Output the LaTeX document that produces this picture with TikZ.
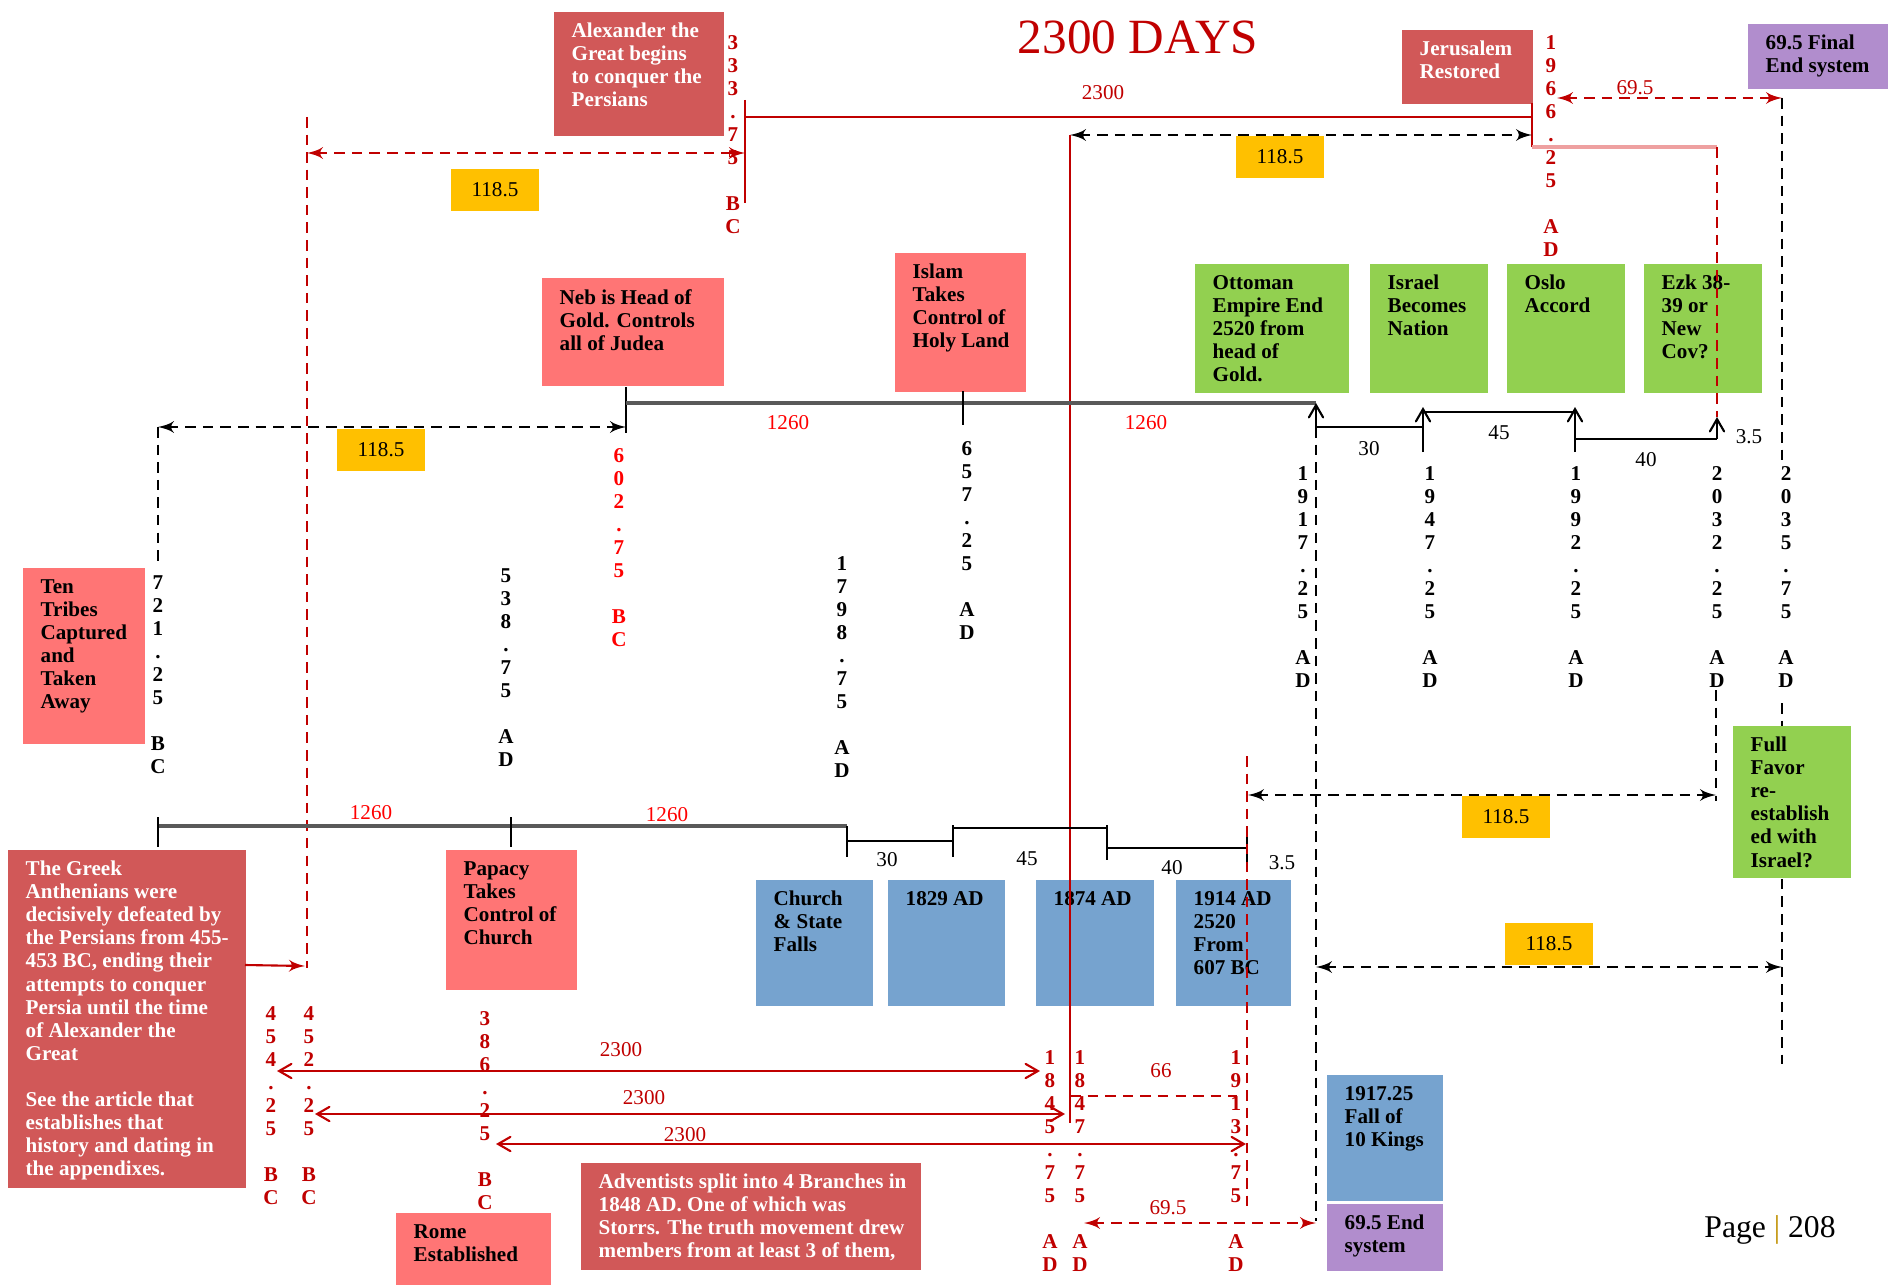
\documentclass[tikz,border=0pt]{standalone}
\usepackage{fontspec}
\setmainfont{Liberation Serif}
\usetikzlibrary{arrows}
\definecolor{alertred}{RGB}{209,88,88}
\definecolor{softred}{RGB}{255,117,117}
\definecolor{leafgreen}{RGB}{146,208,80}
\definecolor{steelblue}{RGB}{118,163,207}
\definecolor{lilac}{RGB}{177,141,205}
\definecolor{amber}{RGB}{255,192,0}
\definecolor{lred}{RGB}{192,0,0}
\definecolor{bred}{RGB}{255,0,0}
\definecolor{pinkred}{RGB}{238,160,160}
\definecolor{pagegold}{RGB}{191,144,0}
\tikzstyle{panel}=[anchor=north west,inner sep=0pt]
\tikzstyle{paneltext}=[anchor=north west,align=left,inner xsep=0.18cm,inner ysep=0.115cm,font=\fontsize{6}{6.55}\selectfont\bfseries]
\tikzstyle{tag}=[fill=amber,minimum width=0.87cm,minimum height=0.42cm,inner sep=0pt,font=\fontsize{6}{6.55}\selectfont]
\tikzstyle{year}=[anchor=north,align=center,inner sep=0pt,font=\fontsize{6}{6.55}\selectfont\bfseries]
\tikzstyle{num}=[inner sep=0pt,font=\fontsize{6}{6.55}\selectfont]
\tikzstyle{redline}=[draw=lred,line width=0.6pt]
\tikzstyle{greyline}=[draw=black!65,line width=0.9pt]
\tikzstyle{bracket}=[draw=black,line width=0.6pt]
\tikzstyle{reddash}=[draw=lred,line width=0.6pt,dash pattern=on 3pt off 2pt]
\tikzstyle{blackdash}=[draw=black,line width=0.6pt,dash pattern=on 3pt off 2pt]
\begin{document}
\begin{tikzpicture}[x=0.01cm,y=-0.01cm]
      \useasboundingbox (0,0) rectangle (1888,1285);
      \node[panel,fill=alertred,minimum width=1.70cm,minimum height=1.24cm] (alex) at (553,11) {};
      \node[paneltext,text=white] (alext) at (alex.north west) {Alexander the\\Great begins\\to conquer the\\Persians};
      \node[panel,fill=alertred,minimum width=1.31cm,minimum height=0.74cm] (jeru) at (1401,29) {};
      \node[paneltext,text=white] (jerut) at (jeru.north west) {Jerusalem\\Restored};
      \node[panel,fill=lilac,minimum width=1.41cm,minimum height=0.65cm] (final) at (1747,23) {};
      \node[paneltext] (finalt) at (final.north west) {69.5 Final\\End system};
      \node[panel,fill=softred,minimum width=1.82cm,minimum height=1.08cm] (neb) at (541,277) {};
      \node[paneltext] (nebt) at (neb.north west) {Neb is Head of\\Gold. Controls\\all of Judea};
      \node[panel,fill=softred,minimum width=1.31cm,minimum height=1.39cm] (islam) at (894,252) {};
      \node[paneltext] (islamt) at (islam.north west) {Islam\\Takes\\Control of\\Holy Land};
      \node[panel,fill=leafgreen,minimum width=1.54cm,minimum height=1.29cm] (ottoman) at (1194,263) {};
      \node[paneltext] (ottomant) at (ottoman.north west) {Ottoman\\Empire End\\2520 from\\head of\\Gold.};
      \node[panel,fill=leafgreen,minimum width=1.18cm,minimum height=1.29cm] (israel) at (1369,263) {};
      \node[paneltext] (israelt) at (israel.north west) {Israel\\Becomes\\Nation};
      \node[panel,fill=leafgreen,minimum width=1.18cm,minimum height=1.29cm] (oslo) at (1506,263) {};
      \node[paneltext] (oslot) at (oslo.north west) {Oslo\\Accord};
      \node[panel,fill=leafgreen,minimum width=1.18cm,minimum height=1.29cm] (ezk) at (1643,263) {};
      \node[paneltext] (ezkt) at (ezk.north west) {Ezk 38-\\39 or\\New\\Cov?};
      \node[panel,fill=softred,minimum width=1.22cm,minimum height=1.76cm] (ten) at (22,567) {};
      \node[paneltext] (tent) at (ten.north west) {Ten\\Tribes\\Captured\\and\\Taken\\Away};
      \node[panel,fill=alertred,minimum width=2.38cm,minimum height=3.38cm] (greek) at (7,849) {};
      \node[paneltext,text=white] (greekt) at (greek.north west) {The Greek\\Anthenians were\\decisively defeated by\\the Persians from 455-\\453 BC, ending their\\attempts to conquer\\Persia until the time\\of Alexander the\\Great\\~\\See the article that\\establishes that\\history and dating in\\the appendixes.};
      \node[panel,fill=softred,minimum width=1.31cm,minimum height=1.40cm] (papacy) at (445,849) {};
      \node[paneltext] (papacyt) at (papacy.north west) {Papacy\\Takes\\Control of\\Church};
      \node[panel,fill=steelblue,minimum width=1.17cm,minimum height=1.26cm] (church) at (755,879) {};
      \node[paneltext] (churcht) at (church.north west) {Church\\\& State\\Falls};
      \node[panel,fill=steelblue,minimum width=1.17cm,minimum height=1.26cm] (b1829) at (887,879) {};
      \node[paneltext] (b1829t) at (b1829.north west) {1829 AD};
      \node[panel,fill=steelblue,minimum width=1.18cm,minimum height=1.26cm] (b1874) at (1035,879) {};
      \node[paneltext] (b1874t) at (b1874.north west) {1874 AD};
      \node[panel,fill=steelblue,minimum width=1.15cm,minimum height=1.26cm] (b1914) at (1175,879) {};
      \node[paneltext] (b1914t) at (b1914.north west) {1914 AD\\2520\\From\\607 BC};
      \node[panel,fill=steelblue,minimum width=1.16cm,minimum height=1.26cm] (b1917) at (1326,1074) {};
      \node[paneltext] (b1917t) at (b1917.north west) {1917.25\\Fall of\\10 Kings};
      \node[panel,fill=lilac,minimum width=1.16cm,minimum height=0.67cm] (end69) at (1326,1203) {};
      \node[paneltext] (end69t) at (end69.north west) {69.5 End\\system};
      \node[panel,fill=softred,minimum width=1.55cm,minimum height=0.73cm] (rome) at (395,1212) {};
      \node[paneltext] (romet) at (rome.north west) {Rome\\Established};
      \node[panel,fill=alertred,minimum width=3.40cm,minimum height=1.07cm] (advent) at (580,1162) {};
      \node[paneltext,text=white] (adventt) at (advent.north west) {Adventists split into 4 Branches in\\1848 AD. One of which was\\Storrs. The truth movement drew\\members from at least 3 of them,};
      \node[tag] (g1) at (495,190) {118.5};
      \node[tag] (g2) at (1280,157) {118.5};
      \node[tag] (g3) at (381,450) {118.5};
      \node[tag] (g4) at (1506,817) {118.5};
      \node[tag] (g5) at (1549,944) {118.5};
      \node[font=\fontsize{14}{14}\selectfont,text=lred] (title) at (1138,37) {2300 DAYS};
      \node[font=\fontsize{9}{9}\selectfont] (page) at (1770,1230) {Page \textcolor{pagegold}{|} 208};
      \coordinate (a333t) at (745,100);
      \coordinate (a333b) at (745,203);
      \coordinate (a333) at (745,117);
      \coordinate (a1966) at (1532,117);
      \coordinate (a1966t) at (1532,103);
      \coordinate (a1966b) at (1532,147);
      \coordinate (pinkend) at (1717,147);
      \coordinate (tip2032) at (1717,417);
      \coordinate (p2032) at (1717,439);
      \coordinate (gre1) at (307,153);
      \coordinate (gre2) at (745,153);
      \coordinate (gret) at (307,117);
      \coordinate (greb) at (307,968);
      \coordinate (grarr) at (245,965);
      \coordinate (grtip) at (305,966);
      \coordinate (j1) at (1070,135);
      \coordinate (j2) at (1532,135);
      \coordinate (redv) at (1070,1123);
      \coordinate (f1) at (1557,98);
      \coordinate (f2) at (1782,98);
      \coordinate (f3) at (1782,467);
      \coordinate (f4) at (1782,703);
      \coordinate (f5) at (1782,1064);
      \coordinate (u0) at (626,387);
      \coordinate (u1) at (626,403);
      \coordinate (u1b) at (626,433);
      \coordinate (u2) at (1316,403);
      \coordinate (i1) at (963,391);
      \coordinate (i2) at (963,425);
      \coordinate (ml1) at (158,427);
      \coordinate (ml2) at (626,427);
      \coordinate (ml3) at (158,563);
      \coordinate (k1) at (1316,427);
      \coordinate (k2) at (1423,427);
      \coordinate (k2t) at (1423,407);
      \coordinate (k2b) at (1423,452);
      \coordinate (k3) at (1423,412);
      \coordinate (k4) at (1575,412);
      \coordinate (k4t) at (1575,407);
      \coordinate (k4b) at (1575,452);
      \coordinate (k5) at (1575,439);
      \coordinate (e1) at (1316,1221);
      \coordinate (m1) at (1316,967);
      \coordinate (m2) at (1782,967);
      \coordinate (n1) at (1248,795);
      \coordinate (n2) at (1716,795);
      \coordinate (n3) at (1716,690);
      \coordinate (n4) at (1716,801);
      \coordinate (l0) at (158,826);
      \coordinate (l0t) at (158,817);
      \coordinate (l0b) at (158,847);
      \coordinate (l1t) at (511,817);
      \coordinate (l1b) at (511,847);
      \coordinate (l2) at (847,826);
      \coordinate (l2b) at (847,857);
      \coordinate (c1) at (847,841);
      \coordinate (c2) at (953,841);
      \coordinate (c2t) at (953,825);
      \coordinate (c2b) at (953,857);
      \coordinate (c3) at (953,828);
      \coordinate (c4) at (1107,828);
      \coordinate (c4t) at (1107,825);
      \coordinate (c4b) at (1107,860);
      \coordinate (c5) at (1107,848);
      \coordinate (c6) at (1247,848);
      \coordinate (c6t) at (1247,830);
      \coordinate (c6b) at (1247,865);
      \coordinate (r1) at (1247,756);
      \coordinate (r2) at (1247,1207);
      \coordinate (h1) at (1070,1096);
      \coordinate (h2) at (1237,1096);
      \coordinate (w1) at (1084,1223);
      \coordinate (w2) at (1316,1223);
      \coordinate (s1l) at (277,1071);
      \coordinate (s1r) at (1040,1071);
      \coordinate (s2l) at (315,1114);
      \coordinate (s2r) at (1065,1114);
      \coordinate (s3l) at (496,1144);
      \coordinate (s3r) at (1246,1144);
      \draw[redline] (a333t) to (a333b);
      \draw[redline] (a333) to (a1966);
      \draw[redline] (a1966t) to (a1966b);
      \draw[draw=pinkred,line width=1pt] (a1966b) to (pinkend);
      \draw[reddash] (pinkend) to (tip2032);
      \draw[reddash,<->,>=latex'] (gre1) to (gre2);
      \draw[reddash] (gret) to (greb);
      \draw[redline,->,>=latex'] (grarr) to (grtip);
      \draw[blackdash,<->,>=latex'] (j1) to (j2);
      \draw[redline] (j1) to (redv);
      \draw[reddash,<->,>=latex'] (f1) to (f2);
      \draw[blackdash] (f2) to (f3);
      \draw[blackdash] (f4) to (f5);
      \draw[bracket] (u0) to (u1b);
      \draw[greyline] (u1) to (u2);
      \draw[bracket] (i1) to (i2);
      \draw[blackdash,<->,>=latex'] (ml1) to (ml2);
      \draw[blackdash] (ml1) to (ml3);
      \draw[bracket,->,>=angle 60] (k1) to (u2);
      \draw[bracket] (k1) to (k2);
      \draw[bracket,->,>=angle 60] (k2b) to (k2t);
      \draw[bracket] (k3) to (k4);
      \draw[bracket,->,>=angle 60] (k4b) to (k4t);
      \draw[bracket] (k5) to (p2032);
      \draw[bracket,->,>=angle 60] (p2032) to (tip2032);
      \draw[blackdash] (k1) to (e1);
      \draw[blackdash,<->,>=latex'] (m1) to (m2);
      \draw[blackdash,<->,>=latex'] (n1) to (n2);
      \draw[blackdash] (n3) to (n4);
      \draw[greyline] (l0) to (l2);
      \draw[bracket] (l0t) to (l0b);
      \draw[bracket] (l1t) to (l1b);
      \draw[bracket] (l2) to (l2b);
      \draw[bracket] (c1) to (c2);
      \draw[bracket] (c2t) to (c2b);
      \draw[bracket] (c3) to (c4);
      \draw[bracket] (c4t) to (c4b);
      \draw[bracket] (c5) to (c6);
      \draw[bracket] (c6t) to (c6b);
      \draw[reddash] (r1) to (r2);
      \draw[reddash] (h1) to (h2);
      \draw[reddash,<->,>=latex'] (w1) to (w2);
      \draw[redline,<->,>=angle 60] (s1l) to (s1r);
      \draw[redline,<->,>=angle 60] (s2l) to (s2r);
      \draw[redline,<->,>=angle 60] (s3l) to (s3r);
      \node[panel,fill=leafgreen,minimum width=1.18cm,minimum height=1.52cm] (favor) at (1732,725) {};
      \node[paneltext] (favort) at (favor.north west) {Full\\Favor\\re-\\establish\\ed with\\Israel?};
      \node[num,text=lred] (n2300) at (1103,93) {2300};
      \node[num,text=lred] (n695a) at (1635,88) {69.5};
      \node[num,text=bred] (n1260a) at (788,423) {1260};
      \node[num,text=bred] (n1260b) at (1146,423) {1260};
      \node[num,text=bred] (n1260c) at (371,813) {1260};
      \node[num,text=bred] (n1260d) at (667,815) {1260};
      \node[num] (n30a) at (1369,449) {30};
      \node[num] (n45a) at (1499,433) {45};
      \node[num] (n40a) at (1646,460) {40};
      \node[num] (n35a) at (1749,437) {3.5};
      \node[num] (n30b) at (887,860) {30};
      \node[num] (n45b) at (1027,859) {45};
      \node[num] (n40b) at (1172,868) {40};
      \node[num] (n35b) at (1282,863) {3.5};
      \node[num,text=lred] (n66) at (1161,1071) {66};
      \node[num,text=lred] (n695b) at (1168,1208) {69.5};
      \node[num,text=lred] (s1t) at (621,1050) {2300};
      \node[num,text=lred] (s2t) at (644,1098) {2300};
      \node[num,text=lred] (s3t) at (685,1135) {2300};
      \node[year,text=lred] (d333) at (733,35) {3\\3\\3\\.\\7\\5\\~\\B\\C};
      \node[year,text=lred] (d1966) at (1551,35) {1\\9\\6\\6\\.\\2\\5\\~\\A\\D};
      \node[year] (d721) at (158,575) {7\\2\\1\\.\\2\\5\\~\\B\\C};
      \node[year] (d538) at (506,568) {5\\3\\8\\.\\7\\5\\~\\A\\D};
      \node[year,text=bred] (d602) at (619,448) {6\\0\\2\\.\\7\\5\\~\\B\\C};
      \node[year] (d1798) at (842,556) {1\\7\\9\\8\\.\\7\\5\\~\\A\\D};
      \node[year] (d657) at (967,441) {6\\5\\7\\.\\2\\5\\~\\A\\D};
      \node[year] (d1917) at (1303,466) {1\\9\\1\\7\\.\\2\\5\\~\\A\\D};
      \node[year] (d1947) at (1430,466) {1\\9\\4\\7\\.\\2\\5\\~\\A\\D};
      \node[year] (d1992) at (1576,466) {1\\9\\9\\2\\.\\2\\5\\~\\A\\D};
      \node[year] (d2032) at (1717,466) {2\\0\\3\\2\\.\\2\\5\\~\\A\\D};
      \node[year] (d2035) at (1786,466) {2\\0\\3\\5\\.\\7\\5\\~\\A\\D};
      \node[year,text=lred] (d454) at (271,1006) {4\\5\\4\\.\\2\\5\\~\\B\\C};
      \node[year,text=lred] (d452) at (309,1006) {4\\5\\2\\.\\2\\5\\~\\B\\C};
      \node[year,text=lred] (d386) at (485,1011) {3\\8\\6\\.\\2\\5\\~\\B\\C};
      \node[year,text=lred] (d1845) at (1050,1050) {1\\8\\4\\5\\.\\7\\5\\~\\A\\D};
      \node[year,text=lred] (d1847) at (1080,1050) {1\\8\\4\\7\\.\\7\\5\\~\\A\\D};
      \node[year,text=lred] (d1913) at (1236,1050) {1\\9\\1\\3\\.\\7\\5\\~\\A\\D};
\end{tikzpicture}
\end{document}
